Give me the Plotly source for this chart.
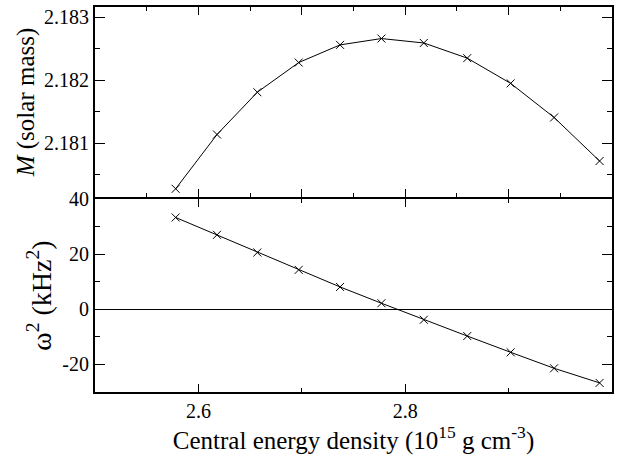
import plotly.graph_objects as go

density = [2.578, 2.618, 2.657, 2.697, 2.737, 2.777, 2.818, 2.860, 2.902, 2.944, 2.988]
mass = [2.18028, 2.18114, 2.18181, 2.18228, 2.18256, 2.18266, 2.18259, 2.18235, 2.18195, 2.18141, 2.18072]
omega2 = [33.3, 27.0, 20.6, 14.3, 8.1, 2.2, -3.8, -9.7, -15.6, -21.4, -26.7]
mass_ticks = [2.181, 2.182, 2.183]
mass_ticklabels = ["2.181", "2.182", "2.183"]
omega_ticks = [-20, 0, 20, 40]
omega_ticklabels = ["-20", "0", "20", "40"]
x_ticks = [2.6, 2.8]
x_ticklabels = ["2.6", "2.8"]

FONT = "Liberation Serif, Times New Roman, serif"

fig = go.Figure()

line_style = dict(color="black", width=1)
marker_style = dict(symbol="x-thin", size=8, line=dict(color="black", width=1), color="black")

fig.add_trace(go.Scatter(x=density, y=mass, mode="lines+markers", line=line_style,
                         marker=marker_style, showlegend=False, xaxis="x2", yaxis="y2"))
fig.add_trace(go.Scatter(x=density, y=omega2, mode="lines+markers", line=line_style,
                         marker=marker_style, showlegend=False, xaxis="x", yaxis="y"))

axis_common = dict(showline=True, linecolor="black", linewidth=2, mirror="allticks",
                   ticks="inside", tickcolor="black", showgrid=False, automargin=False,
                   tickfont=dict(family=FONT, size=20, color="black"))

H = 458 - 6 - 66
top_bottom = (392 - 196.5) / H
bot_top = (392 - 198.5) / H

fig.update_layout(
    xaxis=dict(range=[2.5, 3.0], tickvals=x_ticks, ticktext=x_ticklabels, ticklen=8, tickwidth=1,
               minor=dict(ticks="inside", tickvals=[2.7, 2.9], ticklen=4, tickcolor="black"),
               zeroline=False, anchor="y", domain=[0, 1],
               title=dict(text="Central energy density (10<sup>15</sup> g cm<sup>-3</sup>)",
                          font=dict(family=FONT, size=25, color="black"), standoff=6),
               **axis_common),
    yaxis=dict(range=[-30, 40], tickvals=omega_ticks, ticktext=omega_ticklabels, ticklen=10, tickwidth=1,
               minor=dict(ticks="inside", tickvals=[-30, -10, 10, 30], ticklen=5, tickcolor="black"),
               zeroline=True, zerolinecolor="black", zerolinewidth=1,
               domain=[0, bot_top], anchor="x",
               title=dict(text="ω<sup>2</sup> (kHz<sup>2</sup>)",
                          font=dict(family=FONT, size=28, color="black"), standoff=3),
               **axis_common),
    xaxis2=dict(range=[2.5, 3.0], tick0=2.6, dtick=0.1, ticklen=8, tickwidth=1,
                showticklabels=False, matches="x",
                minor=dict(ticks="inside", dtick=0.05, tick0=2.6, ticklen=4, tickcolor="black"),
                zeroline=False, anchor="y2", domain=[0, 1],
                **axis_common),
    yaxis2=dict(range=[2.18015, 2.18316], tickvals=mass_ticks, ticktext=mass_ticklabels,
                ticklen=10, tickwidth=1,
                minor=dict(ticks="inside", dtick=0.0005, tick0=2.181, ticklen=5, tickcolor="black"),
                zeroline=False, domain=[top_bottom, 1], anchor="x2",
                title=dict(text="<i>M</i> (solar mass)",
                           font=dict(family=FONT, size=25, color="black"), standoff=2),
                **axis_common),
    width=620, height=458, margin=dict(l=95, r=8, t=7, b=66),
    paper_bgcolor="white", plot_bgcolor="white",
    font=dict(family=FONT, color="black"),
)

fig.write_html("out.html", config={"displayModeBar": False},
               post_script="document.body.style.margin='0';")
